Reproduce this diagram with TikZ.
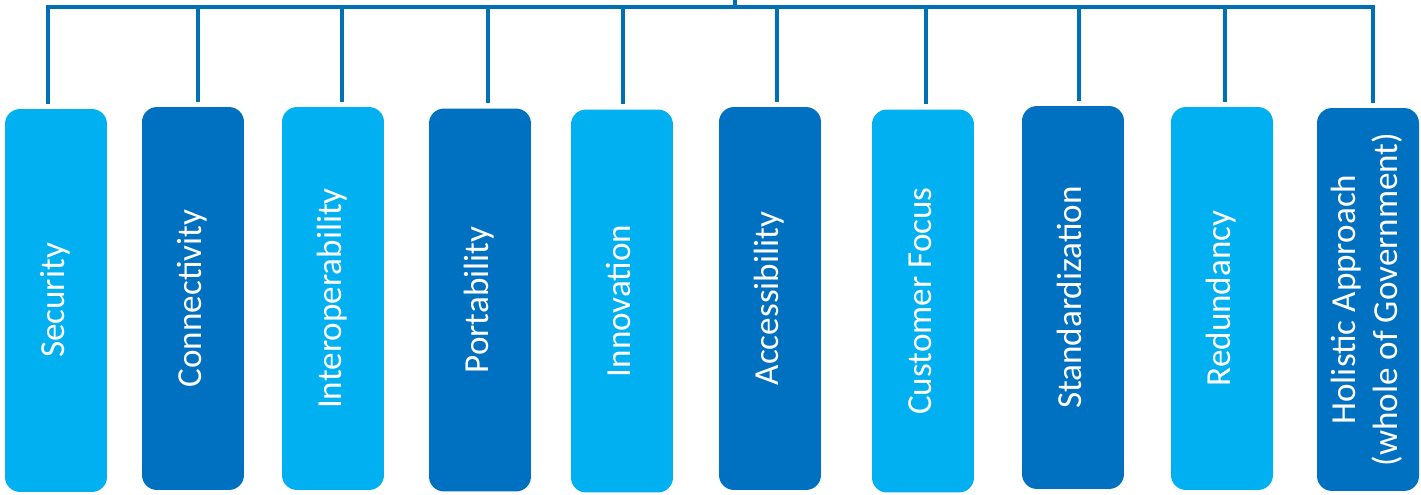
\documentclass[tikz,border=0pt]{standalone}
\usepackage{fontspec}
\setmainfont{Carlito}
\definecolor{lightblue}{HTML}{00B0F0}
\definecolor{darkblue}{HTML}{0070C0}
\definecolor{linkblue}{HTML}{0070B4}
\tikzset{
  pillar/.style={rounded corners=0.3cm, minimum width=2.04cm, minimum height=7.66cm,
    inner sep=0pt, text=white, font=\fontsize{20}{24}\selectfont},
  link/.style={draw=linkblue, line width=2.8pt}
}
\newcommand{\vlabel}[1]{\rotatebox{90}{\begin{tabular}{@{}c@{}}#1\end{tabular}}}

\begin{document}
\begin{tikzpicture}[x=0.02cm, y=-0.02cm]
            \useasboundingbox (0,0) rectangle (1421,494);
            % principle boxes
            \node [pillar, fill=lightblue] (sec) at (56,300.5) {\vlabel{Security}};
            \node [pillar, fill=darkblue] (con) at (193,298.5) {\vlabel{Connectivity}};
            \node [pillar, fill=lightblue] (int) at (333,298.5) {\vlabel{Interoperability}};
            \node [pillar, fill=darkblue] (por) at (480,300) {\vlabel{Portability}};
            \node [pillar, fill=lightblue] (inn) at (622,301) {\vlabel{Innovation}};
            \node [pillar, fill=darkblue] (acc) at (770,298.5) {\vlabel{Accessibility}};
            \node [pillar, fill=lightblue] (cus) at (923,301) {\vlabel{Customer Focus}};
            \node [pillar, fill=darkblue] (sta) at (1073,297.5) {\vlabel{Standardization}};
            \node [pillar, fill=lightblue] (red) at (1222,298.5) {\vlabel{Redundancy}};
            \node [pillar, fill=darkblue] (hol) at (1368,299.5) {\vlabel{Holistic Approach\\(whole of Government)}};
            % stub ends just above each box
            \foreach \n/\dx in {sec/-8,con/5,int/9,por/8,inn/1,acc/7,cus/3,sta/6,red/3,hol/5}
              \coordinate (\n-top) at ([xshift=\dx*0.02cm, yshift=0.1cm]\n.north);
            % top bar
            \coordinate (root) at (735,0);
            \coordinate (bar) at (735,7);
            \draw [link] (root) -- (bar);
            \draw [link] (sec-top) |- (bar) -| (hol-top);
            \foreach \n in {con,int,por,inn,acc,cus,sta,red}
              \draw [link] (\n-top) -- (\n-top |- bar);
\end{tikzpicture}
\end{document}
